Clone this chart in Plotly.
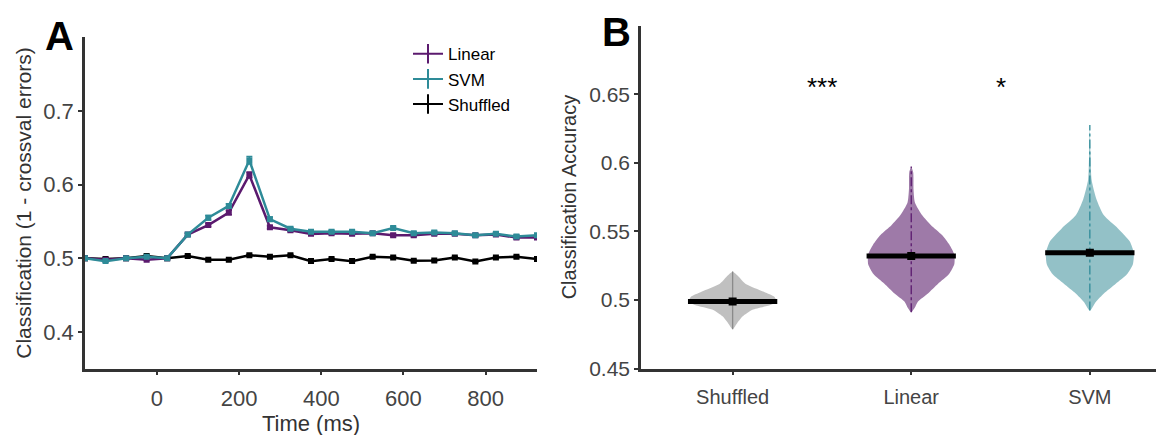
import plotly.graph_objects as go

# ---------------- Panel A data ----------------
time_ms = [-175, -125, -75, -25, 25, 75, 125, 175, 225, 275, 325, 375,
           425, 475, 525, 575, 625, 675, 725, 775, 825, 875, 925]
linear_acc = [0.500, 0.498, 0.500, 0.498, 0.500, 0.532, 0.545, 0.562, 0.613, 0.542, 0.538, 0.533,
              0.534, 0.533, 0.534, 0.531, 0.531, 0.533, 0.533, 0.531, 0.532, 0.528, 0.528]
svm_acc = [0.500, 0.496, 0.500, 0.502, 0.500, 0.532, 0.555, 0.571, 0.633, 0.553, 0.540, 0.536,
           0.536, 0.536, 0.534, 0.541, 0.534, 0.535, 0.534, 0.531, 0.533, 0.5295, 0.531]
shuffled_acc = [0.500, 0.499, 0.500, 0.503, 0.500, 0.503, 0.498, 0.498, 0.504, 0.502, 0.504, 0.496,
                0.499, 0.496, 0.502, 0.501, 0.4965, 0.497, 0.501, 0.4956, 0.501, 0.502, 0.499]
linear_err = [0.001, 0.001, 0.001, 0.001, 0.001, 0.002, 0.002, 0.003, 0.004, 0.002, 0.002, 0.002,
              0.002, 0.002, 0.002, 0.002, 0.002, 0.002, 0.002, 0.002, 0.002, 0.002, 0.002]
svm_err = [0.001, 0.001, 0.001, 0.001, 0.001, 0.002, 0.003, 0.003, 0.005, 0.003, 0.002, 0.002,
           0.002, 0.002, 0.002, 0.002, 0.002, 0.002, 0.002, 0.002, 0.002, 0.002, 0.002]
shuffled_err = [0.001] * 23
a_xticks = [0, 200, 400, 600, 800]
a_yticks = [0.4, 0.5, 0.6, 0.7]

# ---------------- Panel B data ----------------
categories = ["Shuffled", "Linear", "SVM"]
medians = [0.499, 0.532, 0.5344]
# density profiles (relative half-width)
shuf_levels = [0.4787, 0.4834, 0.4881, 0.4929, 0.4964, 0.4990, 0.5024, 0.5059, 0.5119, 0.5166, 0.5190, 0.5208]
shuf_dens = [0.0, 0.11, 0.23, 0.45, 0.86, 1.0, 0.95, 0.72, 0.29, 0.15, 0.075, 0.0]
lin_levels = [0.4910, 0.4941, 0.4988, 0.5048, 0.5119, 0.5190, 0.5261, 0.5332, 0.5403, 0.5474,
              0.5545, 0.5617, 0.5711, 0.5806, 0.5930, 0.5972]
lin_dens = [0.0, 0.075, 0.15, 0.38, 0.61, 0.86, 0.98, 0.98, 0.87, 0.70,
            0.45, 0.25, 0.084, 0.052, 0.045, 0.0]
svm_levels = [0.4924, 0.4988, 0.5048, 0.5119, 0.5190, 0.5261, 0.5344, 0.5427, 0.5522, 0.5617,
              0.5735, 0.5877, 0.6067, 0.6275]
svm_dens = [0.0, 0.14, 0.32, 0.59, 0.85, 0.98, 1.0, 0.91, 0.64, 0.32,
            0.15, 0.04, 0.016, 0.0]
b_yticks = [0.45, 0.5, 0.55, 0.6, 0.65]
b_yticklabels = ["0.45", "0.5", "0.55", "0.6", "0.65"]
sig_labels = ["***", "*"]
sig_pos = [0.5, 1.5]
sig_y = 0.655

# ---------------- styles ----------------
C_LIN = "#5b1a6e"
C_SVM = "#2e8b98"
C_SHU = "#000000"
F_LIN = "rgba(148,108,158,0.9)"
F_SVM = "rgba(138,188,194,0.92)"
F_SHU = "rgba(185,185,185,0.9)"
FONT = "Liberation Sans"
AXC = "#333333"
TXT = "#444444"
W, H = 1164, 435

fig = go.Figure()

series = [
    ("Shuffled", shuffled_acc, shuffled_err, C_SHU),
    ("Linear", linear_acc, linear_err, C_LIN),
    ("SVM", svm_acc, svm_err, C_SVM),
]
for name, ys, es, col in series:
    fig.add_trace(go.Scatter(
        x=time_ms, y=ys, mode="lines+markers", name=name, showlegend=False,
        line=dict(color=col, width=2.5),
        marker=dict(symbol="square", size=6, color=col),
        error_y=dict(type="data", array=es, color=col, thickness=1.5, width=3),
        xaxis="x", yaxis="y"))

# legend entries (line with error-bar glyph)
for name, col in [("Linear", C_LIN), ("SVM", C_SVM), ("Shuffled", C_SHU)]:
    fig.add_trace(go.Scatter(
        x=[None], y=[None], mode="lines+markers", name=name,
        line=dict(color=col, width=2),
        marker=dict(symbol="line-ns", size=14, line=dict(color=col, width=2)),
        xaxis="x", yaxis="y"))

# ---------------- violins (panel B) ----------------
max_hw = 0.246
violins = [
    (0, shuf_levels, shuf_dens, F_SHU, "#8a8a8a", "solid"),
    (1, lin_levels, lin_dens, F_LIN, C_LIN, "dashdot"),
    (2, svm_levels, svm_dens, F_SVM, C_SVM, "dashdot"),
]
for pos, lv, dn, fcol, lcol, dash in violins:
    xs = [pos + d * max_hw for d in dn] + [pos - d * max_hw for d in reversed(dn)]
    ys = list(lv) + list(reversed(lv))
    fig.add_trace(go.Scatter(
        x=xs, y=ys, mode="lines", fill="toself", fillcolor=fcol,
        line=dict(width=0, shape="spline", smoothing=0.6), showlegend=False,
        hoverinfo="skip", xaxis="x2", yaxis="y2"))
    fig.add_trace(go.Scatter(
        x=[pos, pos], y=[lv[0], lv[-1]], mode="lines",
        line=dict(color=lcol, width=1.3, dash=dash), showlegend=False,
        xaxis="x2", yaxis="y2"))

for i, m in enumerate(medians):
    fig.add_trace(go.Scatter(
        x=[i - 0.25, i + 0.25], y=[m, m], mode="lines",
        line=dict(color="black", width=5), showlegend=False,
        xaxis="x2", yaxis="y2"))
fig.add_trace(go.Scatter(
    x=[0, 1, 2], y=medians, mode="markers",
    marker=dict(symbol="square", size=8, color="black"), showlegend=False,
    xaxis="x2", yaxis="y2"))

for lab, p in zip(sig_labels, sig_pos):
    fig.add_annotation(x=p, y=sig_y, xref="x2", yref="y2", text=lab, showarrow=False,
                       font=dict(family=FONT, size=26, color="black"))

# panel letters
fig.add_annotation(x=35 / W, y=1 - 4 / H, xref="paper", yref="paper", text="<b>A</b>",
                   showarrow=False, xanchor="left", yanchor="top",
                   font=dict(family=FONT, size=40, color="black"))
fig.add_annotation(x=592 / W, y=1 - 0 / H, xref="paper", yref="paper", text="<b>B</b>",
                   showarrow=False, xanchor="left", yanchor="top",
                   font=dict(family=FONT, size=40, color="black"))


def axis_common(size):
    return dict(showgrid=False, zeroline=False, showline=True, linecolor=AXC, linewidth=2.5,
                ticks="outside", ticklen=4, tickwidth=2, tickcolor=AXC,
                tickfont=dict(family=FONT, size=size, color=TXT))


fig.update_layout(
    width=W, height=H, margin=dict(l=0, r=0, t=0, b=0),
    plot_bgcolor="white", paper_bgcolor="white",
    font=dict(family=FONT, color=TXT),
    xaxis=dict(domain=[77 / W, 529 / W], range=[-175, 925], tickvals=a_xticks,
               ticklabelstandoff=4,
               title=dict(text="Time (ms)", font=dict(family=FONT, size=22, color=AXC), standoff=4),
               anchor="y", **axis_common(22)),
    yaxis=dict(domain=[65 / H, 405 / H], range=[0.35, 0.8], tickvals=a_yticks,
               tickformat=".1f",
               title=dict(text="Classification (1 - crossval errors)",
                          font=dict(family=FONT, size=21, color=AXC), standoff=6),
               anchor="x", **axis_common(22)),
    xaxis2=dict(domain=[633 / W, 1.0], range=[-0.513, 2.46], tickvals=[0, 1, 2],
                ticklabelstandoff=5,
                ticktext=categories, anchor="y2", **axis_common(20)),
    yaxis2=dict(domain=[65 / H, 417 / H], range=[0.45, 0.70], tickvals=b_yticks,
                ticktext=b_yticklabels,
                title=dict(text="Classification Accuracy",
                           font=dict(family=FONT, size=20, color=AXC), standoff=8),
                anchor="x2", **axis_common(21)),
    legend=dict(x=400 / W, y=1 - 29 / H, xanchor="left", yanchor="top",
                bgcolor="rgba(0,0,0,0)", borderwidth=0, tracegroupgap=0,
                itemwidth=30,
                font=dict(family=FONT, size=17, color="black")),
)

fig.write_html("out.html")
